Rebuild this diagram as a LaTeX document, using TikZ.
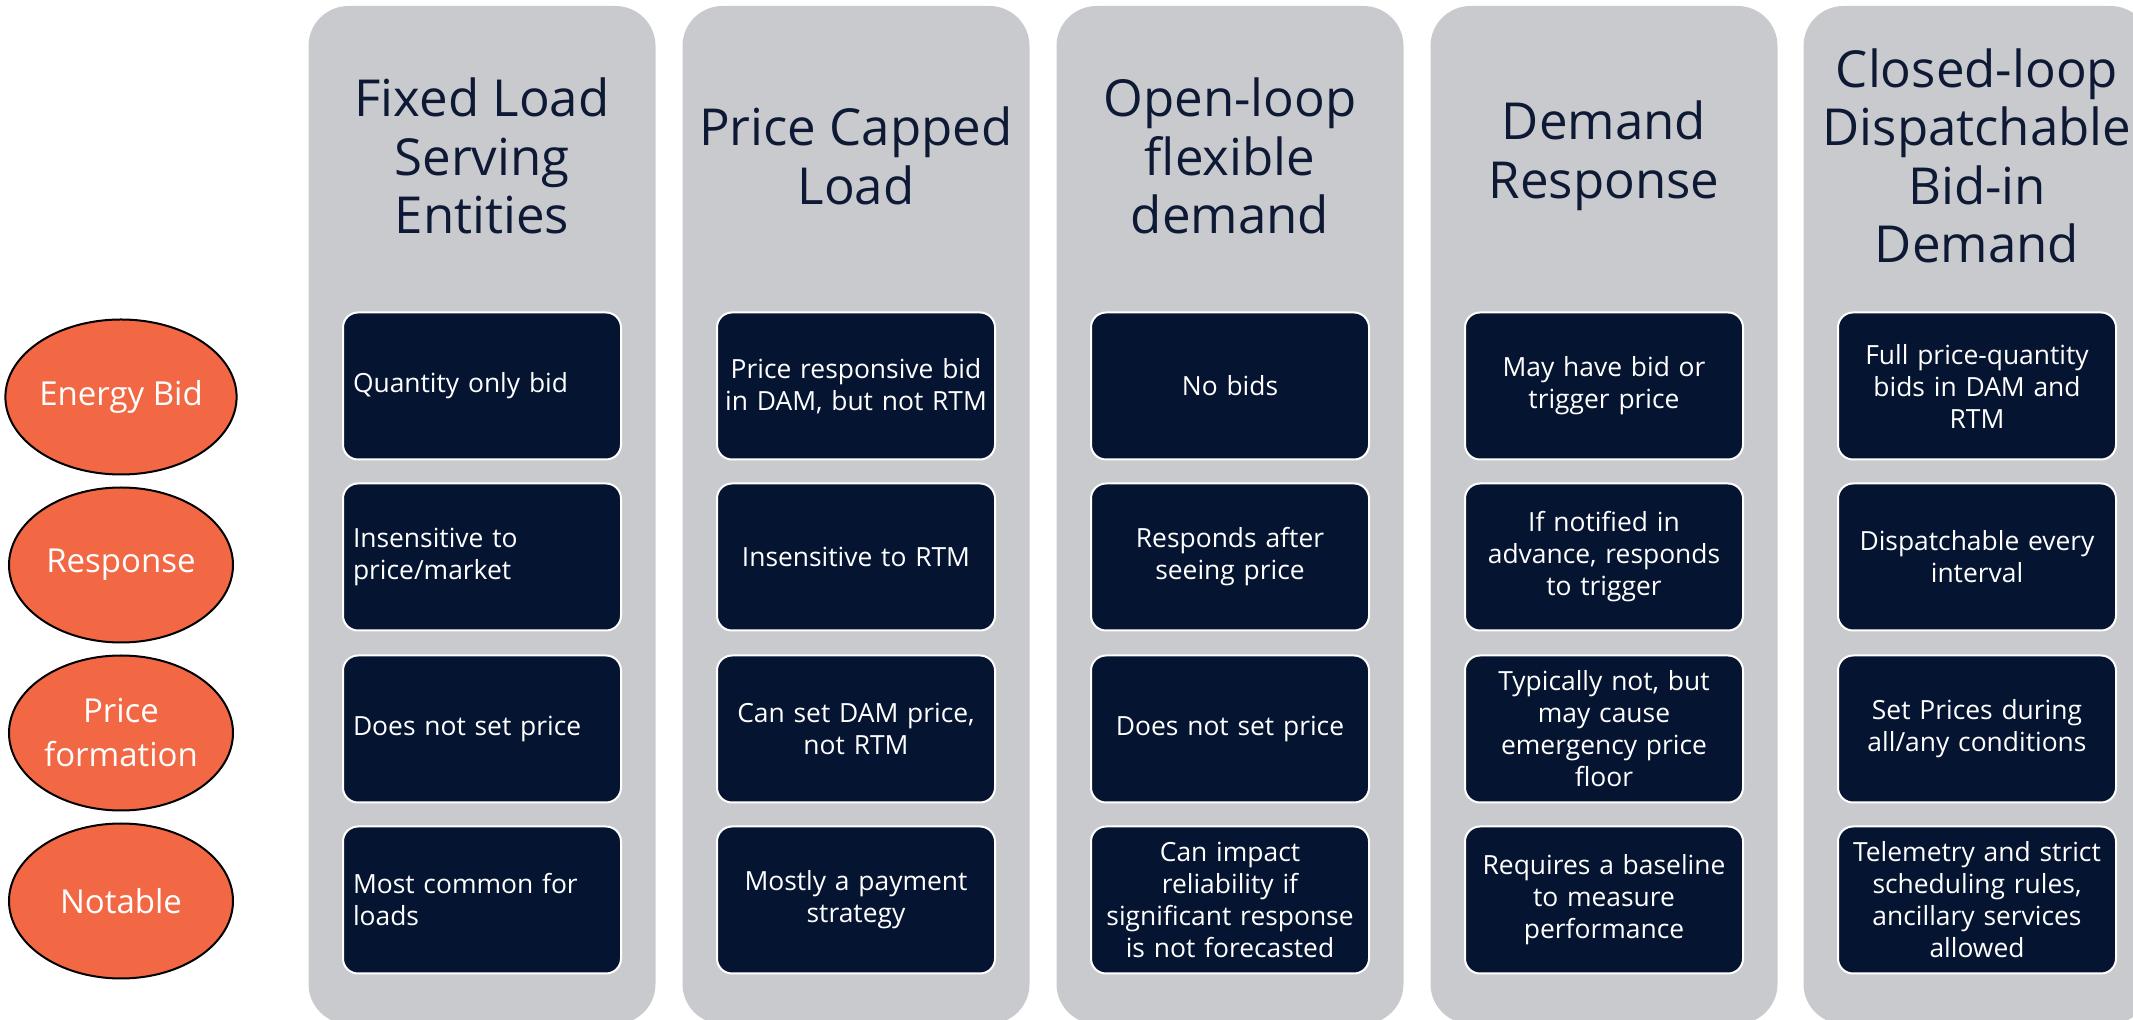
\documentclass[tikz,border=0pt]{standalone}
\usepackage{fontspec}
\setmainfont{Open Sans}
\usepackage{tikz}
\usetikzlibrary{shapes.geometric}
\definecolor{lanegray}{HTML}{C9CACD}
\definecolor{cellnavy}{HTML}{051431}
\definecolor{headnavy}{HTML}{0E1A35}
\definecolor{tagorange}{HTML}{F26744}

\begin{document}
\begin{tikzpicture}[x=0.5pt,y=-0.5pt,
  lane/.style={rectangle,rounded corners=20pt,fill=lanegray,minimum width=173.5pt,minimum height=509pt,inner sep=0pt},
  head/.style={text=headnavy,align=center,font=\fontsize{25.5}{29.25}\selectfont},
  cell/.style={rectangle,rounded corners=7.5pt,draw=white,line width=1pt,fill=cellnavy,text=white,minimum width=139pt,minimum height=73.5pt,text width=135pt,inner sep=2pt,align=center,font=\fontsize{13.2}{16}\selectfont},
  cellL/.style={cell,align=left,text width=129pt,inner sep=5pt},
  tag/.style={ellipse,draw=black,line width=1pt,fill=tagorange,text=white,minimum width=112pt,minimum height=77.5pt,inner sep=0pt,align=center,font=\fontsize{16.5}{22}\selectfont}]
\clip (0,0) rectangle (2133,1020);

% row labels
\node [tag] (bid) at (121,397) {Energy Bid};
\node [tag] (resp) at (121,565) {Response};
\node [tag] (form) at (121,733) {Price\\formation};
\node [tag] (note) at (121,901) {Notable};

% lanes
\node [lane] (lane1) at (482,515) {};
\node [lane] (lane2) at (856,515) {};
\node [lane] (lane3) at (1230,515) {};
\node [lane] (lane4) at (1604,515) {};
\node [lane] (lane5) at (1977,515) {};

\node [head] (h1) at (482,156) {Fixed Load\\Serving\\Entities};
\node [head] (h2) at (856,156) {Price Capped\\Load};
\node [head] (h3) at (1230,156) {Open-loop\\flexible\\demand};
\node [head] (h4) at (1604,156) {Demand\\Response};
\node [head] (h5) at (1977,156) {Closed-loop\\Dispatchable\\Bid-in\\Demand};

% fixed load
\node [cellL] (a1) at (482,386) {Quantity only bid};
\node [cellL] (a2) at (482,557) {Insensitive to\\price/market};
\node [cellL] (a3) at (482,729) {Does not set price};
\node [cellL] (a4) at (482,900) {Most common for\\loads};

% price capped
\node [cell] (b1) at (856,386) {Price responsive bid\\in DAM, but not RTM};
\node [cell] (b2) at (856,557) {Insensitive to RTM};
\node [cell] (b3) at (856,729) {Can set DAM price,\\not RTM};
\node [cell] (b4) at (856,900) {Mostly a payment\\strategy};

% open-loop
\node [cell] (c1) at (1230,386) {No bids};
\node [cell] (c2) at (1230,557) {Responds after\\seeing price};
\node [cell] (c3) at (1230,729) {Does not set price};
\node [cell] (c4) at (1230,900) {Can impact\\reliability if\\significant response\\is not forecasted};

% demand response
\node [cell] (d1) at (1604,386) {May have bid or\\trigger price};
\node [cell] (d2) at (1604,557) {If notified in\\advance, responds\\to trigger};
\node [cell] (d3) at (1604,729) {Typically not, but\\may cause\\emergency price\\floor};
\node [cell] (d4) at (1604,900) {Requires a baseline\\to measure\\performance};

% closed-loop
\node [cell] (e1) at (1977,386) {Full price-quantity\\bids in DAM and\\RTM};
\node [cell] (e2) at (1977,557) {Dispatchable every\\interval};
\node [cell] (e3) at (1977,729) {Set Prices during\\all/any conditions};
\node [cell] (e4) at (1977,900) {Telemetry and strict\\scheduling rules,\\ancillary services\\allowed};
\end{tikzpicture}
\end{document}
